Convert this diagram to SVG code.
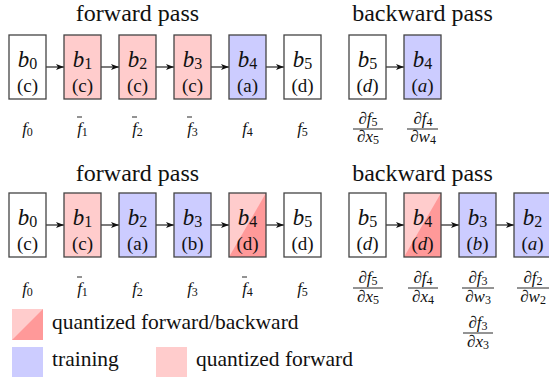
<svg xmlns="http://www.w3.org/2000/svg" width="549" height="377" viewBox="0 0 549 377">
<defs>
<style>
.title{font-family:"Liberation Serif",serif;font-size:24px;text-anchor:middle;fill:#111}
.b{font-family:"Liberation Serif",serif;font-size:23px;font-style:italic;text-anchor:middle;fill:#111}
.sub{font-style:normal}
.lab{font-family:"Liberation Serif",serif;font-size:19px;text-anchor:middle;fill:#111}
.f{font-family:"Liberation Serif",serif;font-size:17px;font-style:italic;text-anchor:middle;fill:#111}
.leg{font-family:"Liberation Serif",serif;font-size:21.5px;fill:#111}
.box{stroke:#444;stroke-width:1.3}
.w{fill:#fff}.p{fill:#ffcccc}.u{fill:#ccccff}
.bar{stroke:#111;stroke-width:0.9}
.fl{stroke:#111;stroke-width:0.9}
.ar{stroke:#111;stroke-width:1.1;fill:none;marker-end:url(#ah)}
</style>
<marker id="ah" markerUnits="userSpaceOnUse" markerWidth="9" markerHeight="6" refX="8" refY="3" orient="auto">
<path d="M0,0 L8,3 L0,6 L2,3 z" fill="#111"/>
</marker>
<g id="half">
<rect width="37" height="64" fill="#ffcccc"/>
<path d="M0,64 L37,0 L37,64 z" fill="#ff9999"/>
</g>
</defs>

<text class="title" x="137.5" y="21.4">forward pass</text>
<text class="title" x="422.5" y="21.4">backward pass</text>
<text class="title" x="137.5" y="181">forward pass</text>
<text class="title" x="422.5" y="181">backward pass</text>

<g id="connectors">
<line class="ar" x1="46" y1="67" x2="64" y2="67"/>
<line class="ar" x1="101" y1="67" x2="119" y2="67"/>
<line class="ar" x1="156" y1="67" x2="174" y2="67"/>
<line class="ar" x1="211" y1="67" x2="229" y2="67"/>
<line class="ar" x1="266" y1="67" x2="284" y2="67"/>
<line class="ar" x1="386" y1="67" x2="404" y2="67"/>
<line class="ar" x1="46" y1="225" x2="64" y2="225"/>
<line class="ar" x1="101" y1="225" x2="119" y2="225"/>
<line class="ar" x1="156" y1="225" x2="174" y2="225"/>
<line class="ar" x1="211" y1="225" x2="229" y2="225"/>
<line class="ar" x1="266" y1="225" x2="284" y2="225"/>
<line class="ar" x1="386" y1="225" x2="404" y2="225"/>
<line class="ar" x1="441" y1="225" x2="459" y2="225"/>
<line class="ar" x1="496" y1="225" x2="514" y2="225"/>
</g>

<!-- row 1 forward -->
<g id="r1f0"><rect class="box w" x="9" y="35" width="37" height="64"/><text class="b" x="27.5" y="66.5">b<tspan class="sub" font-size="16" dy="2">0</tspan></text><text class="lab" x="27.5" y="91.5">(c)</text></g>
<g id="r1f1"><rect class="box p" x="64" y="35" width="37" height="64"/><text class="b" x="82.5" y="66.5">b<tspan class="sub" font-size="16" dy="2">1</tspan></text><text class="lab" x="82.5" y="91.5">(c)</text></g>
<g id="r1f2"><rect class="box p" x="119" y="35" width="37" height="64"/><text class="b" x="137.5" y="66.5">b<tspan class="sub" font-size="16" dy="2">2</tspan></text><text class="lab" x="137.5" y="91.5">(c)</text></g>
<g id="r1f3"><rect class="box p" x="174" y="35" width="37" height="64"/><text class="b" x="192.5" y="66.5">b<tspan class="sub" font-size="16" dy="2">3</tspan></text><text class="lab" x="192.5" y="91.5">(c)</text></g>
<g id="r1f4"><rect class="box u" x="229" y="35" width="37" height="64"/><text class="b" x="247.5" y="66.5">b<tspan class="sub" font-size="16" dy="2">4</tspan></text><text class="lab" x="247.5" y="91.5">(a)</text></g>
<g id="r1f5"><rect class="box w" x="284" y="35" width="37" height="64"/><text class="b" x="302.5" y="66.5">b<tspan class="sub" font-size="16" dy="2">5</tspan></text><text class="lab" x="302.5" y="91.5">(d)</text></g>

<g id="r1flabels">
<text class="f" x="27.5" y="133.5">f<tspan class="sub" font-size="12" dy="2">0</tspan></text>
<text class="f" x="82.5" y="133.5">f<tspan class="sub" font-size="12" dy="2">1</tspan></text>
<text class="f" x="137.5" y="133.5">f<tspan class="sub" font-size="12" dy="2">2</tspan></text>
<text class="f" x="192.5" y="133.5">f<tspan class="sub" font-size="12" dy="2">3</tspan></text>
<text class="f" x="247.5" y="133.5">f<tspan class="sub" font-size="12" dy="2">4</tspan></text>
<text class="f" x="302.5" y="133.5">f<tspan class="sub" font-size="12" dy="2">5</tspan></text>
<line class="bar" x1="77" y1="117" x2="82" y2="117"/>
<line class="bar" x1="132" y1="117" x2="137" y2="117"/>
<line class="bar" x1="187" y1="117" x2="192" y2="117"/>
</g>

<!-- row 1 backward -->
<g id="r1b5"><rect class="box w" x="349" y="35" width="37" height="64"/><text class="b" x="367.5" y="66.5">b<tspan class="sub" font-size="16" dy="2">5</tspan></text><text class="lab" x="367.5" y="91.5">(<tspan font-style="italic">d</tspan>)</text>
<text class="f" x="368" y="124">∂f<tspan class="sub" font-size="12" dy="1.5">5</tspan></text><line class="fl" x1="353" y1="129" x2="383" y2="129"/><text class="f" x="368" y="142">∂x<tspan class="sub" font-size="12" dy="2">5</tspan></text></g>
<g id="r1b4"><rect class="box u" x="404" y="35" width="37" height="64"/><text class="b" x="422.5" y="66.5">b<tspan class="sub" font-size="16" dy="2">4</tspan></text><text class="lab" x="422.5" y="91.5">(<tspan font-style="italic">a</tspan>)</text>
<text class="f" x="423" y="124">∂f<tspan class="sub" font-size="12" dy="1.5">4</tspan></text><line class="fl" x1="407" y1="129" x2="438" y2="129"/><text class="f" x="423" y="142">∂w<tspan class="sub" font-size="12" dy="2">4</tspan></text></g>

<!-- row 2 forward -->
<g id="r2f0"><rect class="box w" x="9" y="193" width="37" height="64"/><text class="b" x="27.5" y="224.5">b<tspan class="sub" font-size="16" dy="2">0</tspan></text><text class="lab" x="27.5" y="249.5">(c)</text></g>
<g id="r2f1"><rect class="box p" x="64" y="193" width="37" height="64"/><text class="b" x="82.5" y="224.5">b<tspan class="sub" font-size="16" dy="2">1</tspan></text><text class="lab" x="82.5" y="249.5">(c)</text></g>
<g id="r2f2"><rect class="box u" x="119" y="193" width="37" height="64"/><text class="b" x="137.5" y="224.5">b<tspan class="sub" font-size="16" dy="2">2</tspan></text><text class="lab" x="137.5" y="249.5">(a)</text></g>
<g id="r2f3"><rect class="box u" x="174" y="193" width="37" height="64"/><text class="b" x="192.5" y="224.5">b<tspan class="sub" font-size="16" dy="2">3</tspan></text><text class="lab" x="192.5" y="249.5">(b)</text></g>
<g id="r2f4"><use href="#half" x="229" y="193"/><rect class="box" fill="none" x="229" y="193" width="37" height="64"/><text class="b" x="247.5" y="224.5">b<tspan class="sub" font-size="16" dy="2">4</tspan></text><text class="lab" x="247.5" y="249.5">(d)</text></g>
<g id="r2f5"><rect class="box w" x="284" y="193" width="37" height="64"/><text class="b" x="302.5" y="224.5">b<tspan class="sub" font-size="16" dy="2">5</tspan></text><text class="lab" x="302.5" y="249.5">(d)</text></g>

<g id="r2flabels">
<text class="f" x="27.5" y="294">f<tspan class="sub" font-size="12" dy="2">0</tspan></text>
<text class="f" x="82.5" y="294">f<tspan class="sub" font-size="12" dy="2">1</tspan></text>
<text class="f" x="137.5" y="294">f<tspan class="sub" font-size="12" dy="2">2</tspan></text>
<text class="f" x="192.5" y="294">f<tspan class="sub" font-size="12" dy="2">3</tspan></text>
<text class="f" x="247.5" y="294">f<tspan class="sub" font-size="12" dy="2">4</tspan></text>
<text class="f" x="302.5" y="294">f<tspan class="sub" font-size="12" dy="2">5</tspan></text>
<line class="bar" x1="77" y1="277" x2="82" y2="277"/>
<line class="bar" x1="242" y1="277" x2="247" y2="277"/>
</g>

<!-- row 2 backward -->
<g id="r2b5"><rect class="box w" x="349" y="193" width="37" height="64"/><text class="b" x="367.5" y="224.5">b<tspan class="sub" font-size="16" dy="2">5</tspan></text><text class="lab" x="367.5" y="249.5">(<tspan font-style="italic">d</tspan>)</text>
<text class="f" x="368" y="283">∂f<tspan class="sub" font-size="12" dy="1.5">5</tspan></text><line class="fl" x1="353" y1="288" x2="383" y2="288"/><text class="f" x="368" y="302">∂x<tspan class="sub" font-size="12" dy="2">5</tspan></text></g>
<g id="r2b4"><use href="#half" x="404" y="193"/><rect class="box" fill="none" x="404" y="193" width="37" height="64"/><text class="b" x="422.5" y="224.5">b<tspan class="sub" font-size="16" dy="2">4</tspan></text><text class="lab" x="422.5" y="249.5">(<tspan font-style="italic">d</tspan>)</text>
<text class="f" x="423" y="283">∂f<tspan class="sub" font-size="12" dy="1.5">4</tspan></text><line class="fl" x1="408" y1="288" x2="438" y2="288"/><text class="f" x="423" y="302">∂x<tspan class="sub" font-size="12" dy="2">4</tspan></text></g>
<g id="r2b3"><rect class="box u" x="459" y="193" width="37" height="64"/><text class="b" x="477.5" y="224.5">b<tspan class="sub" font-size="16" dy="2">3</tspan></text><text class="lab" x="477.5" y="249.5">(<tspan font-style="italic">b</tspan>)</text>
<text class="f" x="478" y="283">∂f<tspan class="sub" font-size="12" dy="1.5">3</tspan></text><line class="fl" x1="462" y1="288" x2="494" y2="288"/><text class="f" x="478" y="302">∂w<tspan class="sub" font-size="12" dy="2">3</tspan></text>
<text class="f" x="478" y="328">∂f<tspan class="sub" font-size="12" dy="1.5">3</tspan></text><line class="fl" x1="463" y1="333" x2="493" y2="333"/><text class="f" x="478" y="347">∂x<tspan class="sub" font-size="12" dy="2">3</tspan></text></g>
<g id="r2b2"><rect class="box u" x="514" y="193" width="37" height="64"/><text class="b" x="532.5" y="224.5">b<tspan class="sub" font-size="16" dy="2">2</tspan></text><text class="lab" x="532.5" y="249.5">(<tspan font-style="italic">a</tspan>)</text>
<text class="f" x="533" y="283">∂f<tspan class="sub" font-size="12" dy="1.5">2</tspan></text><line class="fl" x1="517" y1="288" x2="549" y2="288"/><text class="f" x="533" y="302">∂w<tspan class="sub" font-size="12" dy="2">2</tspan></text></g>

<!-- legend -->
<g id="legend">
<rect x="12" y="309" width="31" height="31" fill="#ffcccc"/>
<path d="M12,340 L43,309 L43,340 z" fill="#ff9999"/>
<text class="leg" x="52" y="329">quantized forward/backward</text>
<rect x="12" y="347" width="31" height="31" fill="#ccccff"/>
<text class="leg" x="52" y="366">training</text>
<rect x="156" y="347" width="31" height="31" fill="#ffcccc"/>
<text class="leg" x="196" y="366">quantized forward</text>
</g>
</svg>
